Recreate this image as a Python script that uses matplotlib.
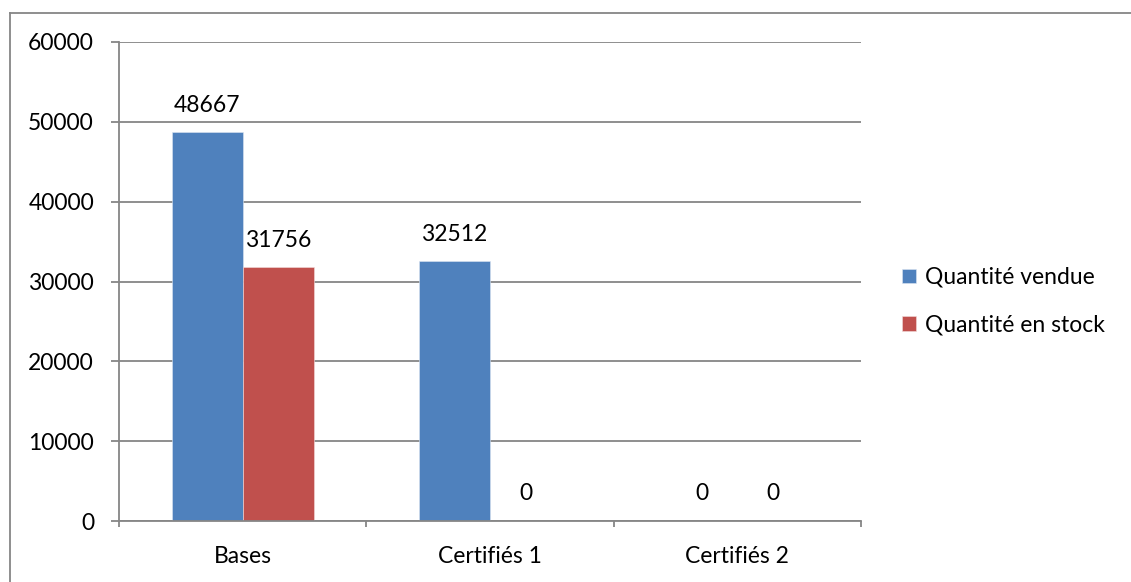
import numpy as np
import matplotlib.pyplot as plt
from matplotlib.lines import Line2D

plt.rcParams['font.family'] = ['Lato', 'DejaVu Sans']

# chart data
categories = ['Bases', 'Certifiés 1', 'Certifiés 2']
vendue = [48667, 32512, 0]
stock = [31756, 0, 0]
series_names = ['Quantité vendue', 'Quantité en stock']

blue = '#4F81BD'
red = '#C0504D'
grey = '#868686'
fs = 16.5

fig = plt.figure(figsize=(11.31, 5.82), dpi=100)
ax = fig.add_axes([119 / 1131, 1 - 521 / 582, (861 - 119) / 1131, (521 - 42) / 582])

x = np.arange(len(categories))
w = 0.287
b1 = ax.bar(x - w / 2, vendue, w, color=blue, label=series_names[0], edgecolor='#dce6f2', linewidth=0.4)
b2 = ax.bar(x + w / 2, stock, w, color=red, label=series_names[1], edgecolor='#f2dcdb', linewidth=0.4)

for bars, vals in ((b1, vendue), (b2, stock)):
    for r, v in zip(bars, vals):
        ax.annotate(str(v), (r.get_x() + r.get_width() / 2, v), xytext=(0, 19.5),
                    textcoords='offset points', ha='center', va='center', fontsize=fs)

ax.set_ylim(0, 60000)
ax.set_xlim(-0.5, 2.5)
ax.set_yticks(np.arange(0, 60001, 10000))
ax.yaxis.grid(True, color=grey, linewidth=1.3)
ax.set_axisbelow(True)

ax.set_xticks([-0.5, 0.5, 1.5, 2.5])
ax.set_xticklabels([])
ax.set_xticks(x, minor=True)
ax.set_xticklabels(categories, minor=True)
ax.tick_params(axis='x', which='major', length=4.5, color=grey, width=1.3, direction='out')
ax.tick_params(axis='x', which='minor', length=0, pad=18, labelsize=fs)
ax.tick_params(axis='y', length=6, color=grey, width=1.3, pad=12, labelsize=fs)

for s in ('top', 'right'):
    ax.spines[s].set_visible(False)
for s in ('left', 'bottom'):
    ax.spines[s].set_color(grey)
    ax.spines[s].set_linewidth(1.3)

ax.legend(loc='center left', bbox_to_anchor=(1.043, 0.459), frameon=False, fontsize=fs,
          handlelength=0.6, handleheight=0.6, handletextpad=0.4, labelspacing=1.15,
          borderaxespad=0)

# outer chart border (cut off on right and bottom)
fx, fy = 10 / 1131, 1 - 13 / 582
fig.add_artist(Line2D([fx, fx], [0, fy], color=grey, linewidth=1.3, transform=fig.transFigure))
fig.add_artist(Line2D([fx, 1], [fy, fy], color=grey, linewidth=1.3, transform=fig.transFigure))

fig.savefig('out.png', dpi=100)
